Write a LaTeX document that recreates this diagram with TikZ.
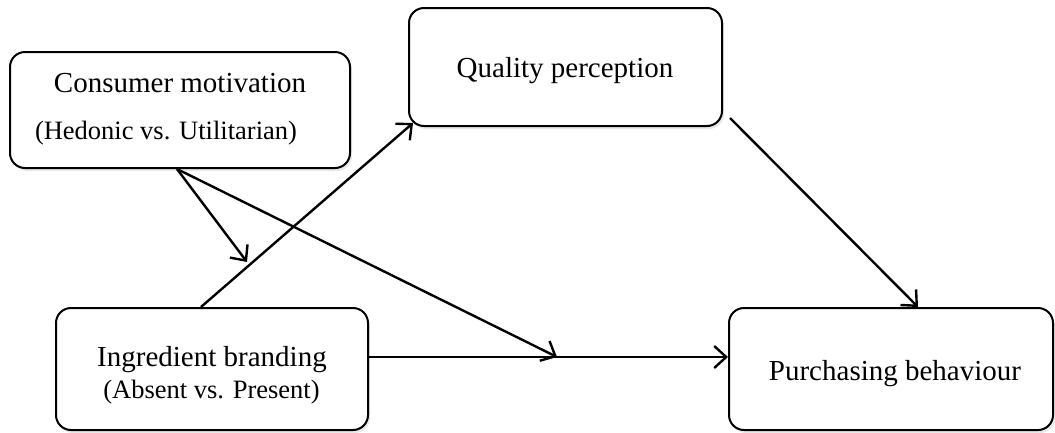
\documentclass[tikz,border=0pt]{standalone}
\usepackage{fontspec}
\setmainfont{Liberation Serif}
\usetikzlibrary{arrows.meta,calc,shadows}
\begin{document}
\begin{tikzpicture}[x=1pt,y=-1pt,
  box/.style={draw=black, line width=2pt, rounded corners=15pt, fill=white, inner sep=0pt,
    drop shadow={opacity=0.18, shadow xshift=2pt, shadow yshift=-3pt}},
  lbl/.style={font=\fontsize{29}{32}\selectfont, inner sep=0pt, anchor=base},
  sub/.style={font=\fontsize{26.5}{30}\selectfont, inner sep=0pt, anchor=base},
  arr/.style={line width=2.4pt, -{Straight Barb[length=12pt,width=22pt,line width=2.4pt]}}]
\useasboundingbox (0,0) rectangle (1055,432);
% boxes
\node[box, minimum width=340pt, minimum height=116pt] (cm) at (180,110) {};
\node[box, minimum width=313pt, minimum height=118pt] (qp) at (565.5,67) {};
\node[box, minimum width=312pt, minimum height=122pt] (ib) at (212,369) {};
\node[box, minimum width=324pt, minimum height=122pt] (pb) at (891,369) {};
% texts
\node[lbl] (cmt) at (180,92.5) {Consumer motivation};
\node[sub] (cms) at (166,139) {(Hedonic vs. Utilitarian)};
\node[lbl] (qpt) at (565,77) {Quality perception};
\node[lbl] (ibt) at (212,366) {Ingredient branding};
\node[sub] (ibs) at (211.5,398) {(Absent vs. Present)};
\node[lbl] (pbt) at (895,380) {Purchasing behaviour};
% connectors
\coordinate (mod) at (247,262);
\coordinate (mid) at (557,357);
\draw[arr] ([xshift=-11pt]ib.north) -- ([xshift=5pt,yshift=4pt]qp.south west);
\draw[arr] ([xshift=-3pt]cm.south) -- (mod);
\draw[arr] ([xshift=-3pt]cm.south) -- (mid);
\draw[arr] ([yshift=12pt]ib.east) -- ([yshift=12pt]pb.west);
\draw[arr] ([xshift=7pt,yshift=9pt]qp.south east) -- ([xshift=27pt]pb.north);
\end{tikzpicture}
\end{document}
